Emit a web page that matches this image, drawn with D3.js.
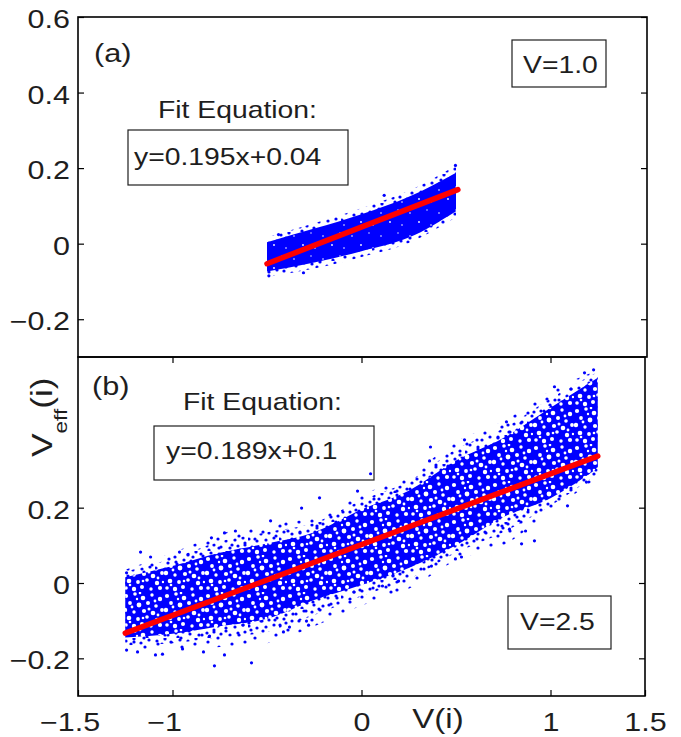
<!DOCTYPE html>
<html>
<head>
<meta charset="utf-8">
<script src="https://cdnjs.cloudflare.com/ajax/libs/d3/7.8.5/d3.min.js"></script>
<style>
body { margin: 0; background: #fff; }
svg { display: block; font-family: "Liberation Sans", Arial, sans-serif; }
</style>
</head>
<body>
<svg id="chart" width="681" height="737"></svg>
<script>
// ---- panel (a), V=1.0 : envelope of the point cloud
var cloudAx  = [-0.5, -0.25, 0, 0.25, 0.5];
var outerAHi = [0.017, 0.054, 0.094, 0.14, 0.207];
var coreAHi  = [0.004, 0.04, 0.078, 0.124, 0.188];
var coreALo  = [-0.074, -0.05, -0.02, 0.016, 0.086];
var outerALo = [-0.088, -0.066, -0.035, 0.002, 0.07];
var strayAx  = [-0.307, -0.439, 0.497, 0.471, -0.49, 0.12];
var strayAy  = [-0.077, 0.024, 0.207, 0.095, -0.085, 0.128];
var fitAx = [-0.5, 0.51];
var fitAy = [-0.053, 0.143];

// ---- panel (b), V=2.5
var cloudBx  = [-1.25, -1, -0.75, -0.5, -0.25, 0, 0.25, 0.5, 0.75, 1, 1.25];
var outerBHi = [0.035, 0.08, 0.13, 0.155, 0.175, 0.235, 0.285, 0.375, 0.43, 0.51, 0.565];
var midBHi   = [0.03, 0.065, 0.11, 0.135, 0.16, 0.22, 0.27, 0.355, 0.41, 0.49, 0.56];
var coreBHi  = [0.015, 0.045, 0.08, 0.105, 0.135, 0.195, 0.245, 0.325, 0.385, 0.465, 0.545];
var coreBLo  = [-0.145, -0.135, -0.115, -0.095, -0.045, -0.005, 0.04, 0.1, 0.175, 0.225, 0.305];
var midBLo   = [-0.165, -0.16, -0.145, -0.13, -0.085, -0.035, 0.01, 0.08, 0.135, 0.205, 0.29];
var outerBLo = [-0.175, -0.18, -0.17, -0.16, -0.115, -0.06, -0.015, 0.06, 0.1, 0.19, 0.28];
var strayBx = [-1.169, -1.116, -1.243, -0.481, -0.667, -0.725, -0.794, -0.963, -1.243, -1.185,
               -1.09, -1.053, -0.947, -0.836, -0.778, -0.725, -0.582, -0.804, 0.365, 0.36,
               0.048, -0.413, -0.381, -0.28, -0.291, -0.021, -0.317, -0.222, 0.111, 0.196,
               0.847, 0.915, 0.868, 0.783, 0.545, 0.767, 1.021, 1.18, 1.228, 1.09,
               1.19, 0.497, 0.529, 0.37];
var strayBy = [0.082, 0.069, 0.027, 0.165, 0.138, 0.133, 0.12, 0.082, -0.178, -0.183,
               -0.191, -0.189, -0.175, -0.183, -0.22, -0.191, -0.212, -0.141, 0.361, 0.324,
               0.29, -0.13, -0.117, -0.112, -0.101, 0.244, 0.199, 0.226, -0.008, 0.005,
               0.104, 0.112, 0.138, 0.143, 0.38, 0.428, 0.521, 0.558, 0.566, 0.205,
               0.268, 0.064, 0.069, 0.045];
var fitBx = [-1.25, 1.25];
var fitBy = [-0.133, 0.337];

// ---- ticks
var yTicksA = [-0.2, 0, 0.2, 0.4, 0.6];
var yTicksB = [-0.2, 0, 0.2];
var xTicks = [-1.5, -1, 0, 1, 1.5];
var xTicksTop = [-1, 0, 1];

var left = 78, right = 645, topA = 17, midY = 357, bottomB = 696;
var blue = "#0000ff", red = "#ff0000", ink = "#1e1e1e";
var sx = 1.18, tickSx = 1.22, tickSize = 25;

var svg = d3.select("#chart");

var x = d3.scaleLinear().domain([-1.5, 1.5]).range([left, right]);
var yA = d3.scaleLinear().domain([-0.3, 0.6]).range([midY, topA]);
var yB = d3.scaleLinear().domain([-0.3, 0.6]).range([bottomB, midY]);

var fmt = function(d) { return String(d).replace("-", "\u2212"); };

// dot textures for the cloud (pure styling)
var defs = svg.append("defs");
function dotPattern(id, w, h, bg, dotColor, pts) {
    var p = defs.append("pattern").attr("id", id)
        .attr("patternUnits", "userSpaceOnUse")
        .attr("width", w).attr("height", h);
    if (bg) p.append("rect").attr("width", w).attr("height", h).attr("fill", bg);
    pts.forEach(function(q) {
        p.append("circle").attr("cx", q[0]).attr("cy", q[1]).attr("r", q[2] || 1.6).attr("fill", dotColor);
    });
}
dotPattern("sparse", 37, 33, null, blue,
    [[4, 4], [17, 8], [29, 3], [10, 17], [23, 15], [34, 20], [3, 27], [16, 26], [27, 29], [33, 11], [21, 31]]);
dotPattern("medium", 31, 29, null, blue,
    [[2, 3], [10, 1], [17, 5], [25, 2], [29, 9], [5, 10], [13, 12], [21, 11], [1, 17], [9, 19],
     [18, 18], [26, 16], [4, 25], [13, 26], [21, 24], [28, 23], [7, 6], [23, 28]]);
dotPattern("dense", 41, 37, blue, "#fff",
    [[3, 4, 2.1], [12, 2, 1.8], [20, 6, 2.3], [29, 3, 1.7], [37, 7, 2.2], [7, 11, 1.9], [16, 13, 2.4],
     [25, 11, 2.0], [33, 14, 1.8], [2, 18, 2.2], [11, 20, 1.7], [21, 19, 2.1], [30, 21, 2.3],
     [39, 18, 1.9], [6, 26, 2.3], [15, 27, 1.9], [24, 25, 1.8], [34, 28, 2.2], [3, 33, 1.8],
     [11, 34, 2.2], [19, 32, 2.0], [28, 34, 1.7], [37, 33, 2.1], [26, 17, 1.5], [9, 15, 1.4],
     [35, 23, 1.4], [17, 1, 1.3], [32, 9, 1.4], [20, 26, 1.3], [7, 30, 1.3], [40, 27, 1.2], [14, 7, 1.2]]);
dotPattern("solid", 29, 23, blue, "#fff",
    [[4, 6, 0.8], [13, 15, 0.9], [21, 3, 0.7], [25, 18, 0.8]]);

function cloud(g, y, xs, lo, hi, fill) {
    var area = d3.area()
        .x(function(d, i) { return x(xs[i]); })
        .y0(function(d, i) { return y(lo[i]); })
        .y1(function(d, i) { return y(hi[i]); })
        .curve(d3.curveMonotoneX);
    g.append("path").datum(xs).attr("d", area).attr("fill", fill);
}

function strays(g, y, xs, ys) {
    g.selectAll(null).data(xs).enter().append("circle")
        .attr("cx", function(d) { return x(d); })
        .attr("cy", function(d, i) { return y(ys[i]); })
        .attr("r", 1.6).attr("fill", blue);
}

function fitLine(g, y, xs, ys) {
    var line = d3.line()
        .x(function(d) { return x(d); })
        .y(function(d, i) { return y(ys[i]); });
    g.append("path").datum(xs).attr("d", line)
        .attr("stroke", red).attr("stroke-width", 5.5)
        .attr("stroke-linecap", "round").attr("fill", "none");
}

function stretchLabels(axisG, padX) {
    axisG.selectAll(".tick text")
        .style("font-size", tickSize + "px").attr("fill", ink)
        .attr("transform", "scale(" + tickSx + ",1)");
    if (padX) axisG.selectAll(".tick text").attr("x", padX / tickSx);
}

function styleAxis(axisG) {
    axisG.select(".domain").remove();
    axisG.selectAll(".tick line").attr("stroke", "#000").attr("stroke-width", 1.2);
}

function label(g, px, py, txt, size, anchor) {
    return g.append("text")
        .attr("transform", "translate(" + px + "," + py + ") scale(" + sx + ",1)")
        .attr("text-anchor", anchor || "start")
        .style("font-size", size + "px").attr("fill", ink)
        .text(txt);
}

function box(g, x0, y0, x1, y1) {
    g.append("rect").attr("x", x0).attr("y", y0)
        .attr("width", x1 - x0).attr("height", y1 - y0)
        .attr("fill", "none").attr("stroke", ink).attr("stroke-width", 1.2);
}

// ---------- panel (a)
var gA = svg.append("g");
cloud(gA, yA, cloudAx, outerALo, outerAHi, "url(#medium)");
cloud(gA, yA, cloudAx, coreALo, coreAHi, "url(#solid)");
strays(gA, yA, strayAx, strayAy);
fitLine(gA, yA, fitAx, fitAy);

var axA = gA.append("g").attr("transform", "translate(" + left + ",0)")
    .call(d3.axisLeft(yA).tickValues(yTicksA).tickFormat(fmt)
        .tickSizeInner(-6).tickSizeOuter(0).tickPadding(8));
styleAxis(axA);
axA.selectAll(".tick text").attr("dy", "0.42em");
stretchLabels(axA, -8);
var axAR = gA.append("g").attr("transform", "translate(647,0)")
    .call(d3.axisRight(yA).tickValues(yTicksA).tickFormat("").tickSizeInner(-6).tickSizeOuter(0));
styleAxis(axAR);

gA.append("rect").attr("x", left).attr("y", topA)
    .attr("width", 647 - left).attr("height", midY - topA)
    .attr("fill", "none").attr("stroke", "#000").attr("stroke-width", 1.6);

label(gA, 94, 62, "(a)", 26);
label(gA, 158, 118, "Fit Equation:", 24);
box(gA, 128, 130, 348, 185);
label(gA, 134, 165, "y=0.195x+0.04", 24);
box(gA, 512, 40, 606, 87);
label(gA, 523, 73, "V=1.0", 24);

// ---------- panel (b)
var gB = svg.append("g");
cloud(gB, yB, cloudBx, outerBLo, outerBHi, "url(#sparse)");
cloud(gB, yB, cloudBx, midBLo, midBHi, "url(#medium)");
cloud(gB, yB, cloudBx, coreBLo, coreBHi, "url(#dense)");
strays(gB, yB, strayBx, strayBy);
fitLine(gB, yB, fitBx, fitBy);

var axB = gB.append("g").attr("transform", "translate(" + left + ",0)")
    .call(d3.axisLeft(yB).tickValues(yTicksB).tickFormat(fmt)
        .tickSizeInner(-6).tickSizeOuter(0).tickPadding(8));
styleAxis(axB);
axB.selectAll(".tick text").attr("dy", "0.42em");
stretchLabels(axB, -8);
var axBR = gB.append("g").attr("transform", "translate(" + right + ",0)")
    .call(d3.axisRight(yB).tickValues(yTicksB).tickFormat("").tickSizeInner(-6).tickSizeOuter(0));
styleAxis(axBR);

var axX = gB.append("g").attr("transform", "translate(0," + bottomB + ")")
    .call(d3.axisBottom(x).tickValues(xTicks).tickFormat(fmt)
        .tickSizeInner(-6).tickSizeOuter(0).tickPadding(17));
styleAxis(axX);
stretchLabels(axX);
// the minus sign hangs to the left of the centred number
axX.selectAll(".tick text").attr("x", function(d) { return d < 0 ? -8.5 / tickSx : 0; });
var axXT = gB.append("g").attr("transform", "translate(0," + midY + ")")
    .call(d3.axisTop(x).tickValues(xTicksTop).tickFormat("").tickSizeInner(-6).tickSizeOuter(0));
styleAxis(axXT);

gB.append("rect").attr("x", left).attr("y", midY)
    .attr("width", right - left).attr("height", bottomB - midY)
    .attr("fill", "none").attr("stroke", "#000").attr("stroke-width", 1.6);

label(gB, 92, 395, "(b)", 26);
label(gB, 183, 410, "Fit Equation:", 24);
box(gB, 154, 426, 374, 480);
label(gB, 166, 459, "y=0.189x+0.1", 24);
box(gB, 508, 596, 611, 649);
label(gB, 520, 630, "V=2.5", 24);

// axis titles
label(svg, 438, 728, "V(i)", 28, "middle");
var yt = svg.append("text")
    .attr("transform", "translate(52,457) rotate(-90) scale(" + sx + ",1)")
    .style("font-size", "30px").attr("fill", ink);
yt.append("tspan").text("V");
yt.append("tspan").attr("dy", 15).style("font-size", "19px").text("eff");
yt.append("tspan").attr("dy", -15).text("(i)");
</script>
</body>
</html>
